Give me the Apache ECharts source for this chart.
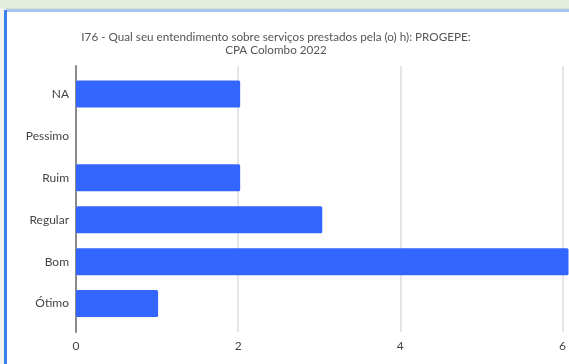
<!DOCTYPE html>
<html><head><meta charset="utf-8">
<script src="https://cdn.jsdelivr.net/npm/echarts@6/dist/echarts.min.js"></script>
<style>html,body{margin:0;padding:0;background:#fff}#c{width:569px;height:364px}</style>
</head><body><div id="c"></div>
<script>
var titleText = 'I76 - Qual seu entendimento sobre serviços prestados pela (o) h): PROGEPE:\nCPA Colombo 2022';
var categories = ['NA', 'Pessimo', 'Ruim', 'Regular', 'Bom', 'Ótimo'];
var values = [2, 0, 2, 3, 6, 1];
var xTicks = [0, 2, 4, 6];

var font = 'Lato, "Open Sans", sans-serif';
var chart = echarts.init(document.getElementById('c'), null, {renderer: 'canvas'});
chart.setOption({
  animation: false,
  backgroundColor: '#ffffff',
  graphic: [
    {type: 'rect', shape: {x: 0, y: 0, width: 569, height: 8}, style: {fill: '#e3efdb'}, z: 100},
    {type: 'line', shape: {x1: 0, y1: 8.5, x2: 569, y2: 8.5}, style: {stroke: '#d8ddd6', lineWidth: 1}, z: 100},
    {type: 'rect', shape: {x: 6, y: 9, width: 563, height: 3}, style: {fill: '#a9c7ef'}, z: 100},
    {type: 'rect', shape: {x: 0, y: 8, width: 4, height: 356}, style: {fill: '#f3f3f3'}, z: 100},
    {type: 'rect', shape: {x: 4, y: 10, width: 3, height: 354}, style: {fill: '#3a80e6'}, z: 100}
  ],
  title: {
    text: titleText, left: 271, textAlign: 'center', top: 26,
    textStyle: {fontFamily: font, fontSize: 11.7, fontWeight: 'normal', color: '#555', lineHeight: 13}
  },
  grid: [
    {left: 76, right: 0.5, top: 73, bottom: 39.5, containLabel: false},
    {left: 76, right: 0.5, top: 66, bottom: 32, containLabel: false}
  ],
  xAxis: [
    {gridIndex: 0, type: 'value', min: 0, max: 6, interval: 2, show: false},
    {gridIndex: 1, type: 'value', min: xTicks[0], max: xTicks[xTicks.length - 1], interval: 2,
     axisLine: {show: false}, axisTick: {show: false},
     axisLabel: {fontFamily: font, fontSize: 12, color: '#444', margin: 8},
     splitLine: {show: true, lineStyle: {color: '#dcdcdc', width: 1.5}}}
  ],
  yAxis: [
    {gridIndex: 0, type: 'category', data: categories, inverse: true,
     axisLine: {show: false}, axisTick: {show: false},
     axisLabel: {fontFamily: font, fontSize: 12, color: '#444', margin: 7}},
    {gridIndex: 1, type: 'value', min: 0, max: 1, splitLine: {show: false},
     axisLabel: {show: false}, axisTick: {show: false},
     axisLine: {show: true, lineStyle: {color: '#8a8a8a', width: 2}}}
  ],
  series: [{
    type: 'bar', xAxisIndex: 0, yAxisIndex: 0, data: values, barWidth: 27,
    itemStyle: {color: '#3366ff', borderRadius: 1.5}, z: 3
  }]
});
</script></body></html>
